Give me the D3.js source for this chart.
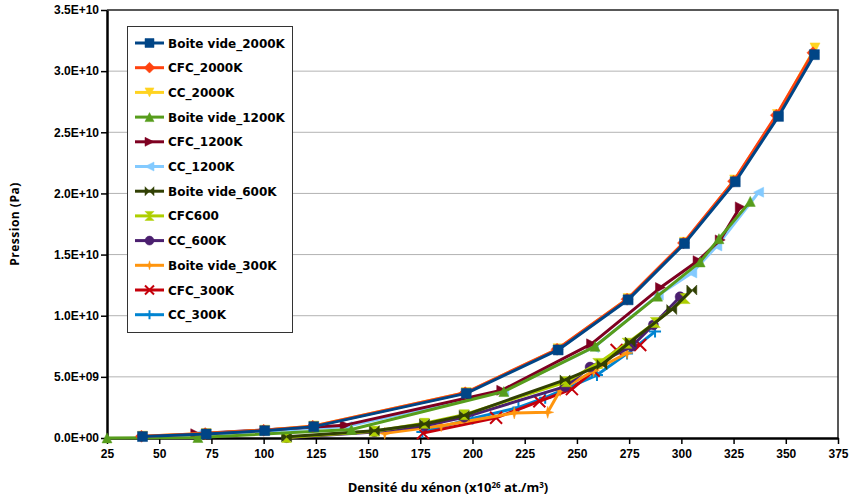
<!DOCTYPE html>
<html>
<head>
<meta charset="utf-8">
<script src="https://cdn.jsdelivr.net/npm/d3@7/dist/d3.min.js"></script>
<style>
  html, body { margin: 0; padding: 0; background: #fff; }
  svg { display: block; }
</style>
</head>
<body>
<svg id="chart" width="849" height="499"></svg>
<script>
// Pression en fonction de la densité du xénon — [densité (x10^26 at./m³), pression (Pa)]
const boiteVide2000K = [[42,0.12e9],[72.5,0.33e9],[100.5,0.6e9],[124,0.93e9],[197,3.65e9],[241,7.2e9],[274.5,11.3e9],[301.5,15.9e9],[325.8,20.95e9],[346.5,26.3e9],[363.7,31.35e9]];
const cfc2000K = [[41.5,0.14e9],[72,0.36e9],[100,0.63e9],[123.5,0.96e9],[196.5,3.7e9],[240.5,7.25e9],[274,11.35e9],[301,15.95e9],[325,21.0e9],[345.5,26.4e9],[363,31.5e9]];
const cc2000K = [[42,0.15e9],[72.5,0.37e9],[100.5,0.64e9],[124,0.98e9],[197,3.72e9],[241,7.3e9],[274.5,11.4e9],[301.5,16.0e9],[325.5,21.1e9],[346,26.45e9],[364,31.9e9]];
const boiteVide1200K = [[25,0.01e9],[68.5,0.04e9],[142,0.7e9],[215,3.8e9],[258.7,7.5e9],[288.6,11.6e9],[309,14.4e9],[318,16.3e9],[333,19.35e9]];
const cfc1200K = [[67.5,0.35e9],[139,1.05e9],[214,3.9e9],[257,7.7e9],[290,12.3e9],[308,14.5e9],[318.6,16.2e9],[328.2,18.9e9]];
const cc1200K = [[68,0.25e9],[140,0.95e9],[215,3.85e9],[258,7.4e9],[289,11.7e9],[305,13.5e9],[317,15.7e9],[337,20.1e9]];
const boiteVide600K = [[111,0.1e9],[153,0.6e9],[177,1.15e9],[196,1.85e9],[244.3,4.75e9],[262,6.0e9],[275.5,7.85e9],[295.4,10.5e9],[305,12.1e9]];
const cfc600 = [[111,0.05e9],[153,0.55e9],[177,1.2e9],[196,1.9e9],[245,4.6e9],[260,6.1e9],[274,7.75e9],[287.5,9.45e9],[301.8,11.4e9]];
const cc600K = [[111,0.03e9],[153,0.5e9],[177,1.0e9],[196,1.7e9],[244.3,4.2e9],[256.3,5.8e9],[276.3,7.5e9],[286.6,9.25e9],[299.4,11.55e9]];
const boiteVide300K = [[158,0.38e9],[185,1.0e9],[220,2.05e9],[236,2.1e9],[242,3.9e9],[258,5.5e9],[274,6.95e9]];
const cfc300K = [[176.3,0.4e9],[211.3,1.65e9],[232,3.0e9],[247.6,4.0e9],[258,5.5e9],[269,7.2e9],[280.3,7.6e9]];
const cc300K = [[176,0.5e9],[200,1.6e9],[222,2.5e9],[234.8,3.3e9],[259.6,5.15e9],[274,6.9e9],[287.4,8.7e9]];

const seriesNames = ["Boite vide_2000K","CFC_2000K","CC_2000K","Boite vide_1200K","CFC_1200K","CC_1200K",
                     "Boite vide_600K","CFC600","CC_600K","Boite vide_300K","CFC_300K","CC_300K"];
const seriesData = [boiteVide2000K, cfc2000K, cc2000K, boiteVide1200K, cfc1200K, cc1200K,
                    boiteVide600K, cfc600, cc600K, boiteVide300K, cfc300K, cc300K];

const xTicks = [25,50,75,100,125,150,175,200,225,250,275,300,325,350,375];
const yTicks = [0,5e9,10e9,15e9,20e9,25e9,30e9,35e9];
const yTickLabels = ["0.0E+00","5.0E+09","1.0E+10","1.5E+10","2.0E+10","2.5E+10","3.0E+10","3.5E+10"];

// Style per series: colour and marker
const colors = ["#004586","#ff420e","#ffd320","#579d1c","#7e0021","#83caff",
                "#314004","#aecf00","#4b1f6f","#ff950e","#c5000b","#0084d1"];
const markers = ["square","diamond","down","up","right","left","bowtie","hourglass","circle","star","cross","plus"];

function markerPath(type, r) {
  switch (type) {
    case "square": return `M${-r},${-r}H${r}V${r}H${-r}Z`;
    case "diamond": return `M0,${-r*1.2}L${r*1.2},0L0,${r*1.2}L${-r*1.2},0Z`;
    case "down": return `M${-r},${-r}L${r},${-r}L0,${r}Z`;
    case "up": return `M${-r},${r}L${r},${r}L0,${-r}Z`;
    case "right": return `M${-r},${-r}L${r},0L${-r},${r}Z`;
    case "left": return `M${r},${-r}L${-r},0L${r},${r}Z`;
    case "bowtie": return `M${-r},${-r}L0,0L${-r},${r}ZM${r},${-r}L0,0L${r},${r}Z`;
    case "hourglass": return `M${-r},${-r}L${r},${-r}L0,0ZM${-r},${r}L${r},${r}L0,0Z`;
    case "circle": return `M${r},0A${r},${r} 0 1,1 ${-r},0A${r},${r} 0 1,1 ${r},0Z`;
    case "star": { const s = r*0.22; return `M0,${-r}L${s},${-s}L${r},0L${s},${s}L0,${r}L${-s},${s}L${-r},0L${-s},${-s}Z`; }
    case "cross": return `M${-r},${-r}L${r},${r}M${r},${-r}L${-r},${r}`;
    case "plus": return `M0,${-r}V${r}M${-r},0H${r}`;
  }
}
const strokeOnly = t => t === "cross" || t === "plus";

const svg = d3.select("#chart");
const margin = {left: 107, right: 11, top: 10, bottom: 61};
const W = 849, H = 499;
const x = d3.scaleLinear().domain([25, 375]).range([margin.left, W - margin.right]);
const y = d3.scaleLinear().domain([0, 35e9]).range([H - margin.bottom, margin.top]);

const tickFont = "'Liberation Sans', Arial, sans-serif";

// horizontal gridlines
svg.append("g").selectAll("line").data(yTicks.slice(1, -1)).join("line")
  .attr("x1", x(25)).attr("x2", x(375))
  .attr("y1", d => y(d)).attr("y2", d => y(d))
  .attr("stroke", "#b3b3b3").attr("stroke-width", 1);

// plot frame (top and right)
svg.append("path")
  .attr("d", `M${x(25)},${y(35e9)}H${x(375)}V${y(0)}`)
  .attr("fill", "none").attr("stroke", "#222").attr("stroke-width", 1.5);

// axes
const yAxis = d3.axisLeft(y).tickValues(yTicks).tickFormat((d, i) => yTickLabels[i]).tickSize(6).tickSizeOuter(0);
const gy = svg.append("g").attr("transform", `translate(${x(25)},0)`).call(yAxis);
const xAxis = d3.axisBottom(x).tickValues(xTicks).tickFormat(d3.format("d")).tickSize(6).tickSizeOuter(0);
const gx = svg.append("g").attr("transform", `translate(0,${y(0)})`).call(xAxis);
[gx, gy].forEach(g => {
  g.select(".domain").attr("stroke", "#000").attr("stroke-width", 2.5);
  g.selectAll(".tick line").attr("stroke", "#000").attr("stroke-width", 1.5);
  g.selectAll(".tick text").attr("fill", "#000")
    .style("font-family", tickFont).style("font-weight", "bold").style("font-size", "12px");
});
gy.selectAll(".tick text").attr("x", -8);
gx.selectAll(".tick text").attr("y", 11);

// axis titles
svg.append("text")
  .attr("x", 448).attr("y", 492)
  .attr("text-anchor", "middle")
  .style("font-family", "'Open Sans', sans-serif").style("font-weight", "bold").style("font-size", "13px")
  .attr("fill", "#000")
  .html('Densité du xénon (x10<tspan dy="-4" font-size="8">26</tspan><tspan dy="4"> at./m</tspan><tspan dy="-4" font-size="8">3</tspan><tspan dy="4">)</tspan>');
svg.append("text")
  .attr("transform", `translate(19,${(y(0) + y(35e9)) / 2}) rotate(-90)`)
  .attr("text-anchor", "middle")
  .style("font-family", "'Open Sans', sans-serif").style("font-weight", "bold").style("font-size", "12px")
  .style("letter-spacing", "0.5px")
  .attr("fill", "#000")
  .text("Pression (Pa)");

// series, drawn last-to-first so the first ones sit on top
const line = d3.line().x(d => x(d[0])).y(d => y(d[1]));
const order = d3.range(seriesData.length).reverse();
order.forEach(i => {
  const g = svg.append("g");
  g.append("path").datum(seriesData[i]).attr("d", line)
    .attr("fill", "none").attr("stroke", colors[i]).attr("stroke-width", 3).attr("stroke-linejoin", "round");
  const r = markers[i] === "circle" ? 5 : (strokeOnly(markers[i]) || markers[i] === "star" ? 6 : 5);
  g.selectAll("path.m").data(seriesData[i]).join("path").attr("class", "m")
    .attr("transform", d => `translate(${x(d[0])},${y(d[1])})`)
    .attr("d", markerPath(markers[i], r))
    .attr("fill", strokeOnly(markers[i]) ? "none" : colors[i])
    .attr("stroke", colors[i]).attr("stroke-width", strokeOnly(markers[i]) ? 2 : 0.5);
});

// legend
const lg = svg.append("g");
lg.append("rect").attr("x", 127.5).attr("y", 26.5).attr("width", 165).attr("height", 306)
  .attr("fill", "#fff").attr("stroke", "#333").attr("stroke-width", 1);
seriesNames.forEach((name, i) => {
  const yy = 43 + i * 24.7;
  lg.append("line").attr("x1", 135).attr("x2", 164).attr("y1", yy).attr("y2", yy)
    .attr("stroke", colors[i]).attr("stroke-width", 3);
  lg.append("path").attr("transform", `translate(149.5,${yy})`)
    .attr("d", markerPath(markers[i], 4.5))
    .attr("fill", strokeOnly(markers[i]) ? "none" : colors[i])
    .attr("stroke", colors[i]).attr("stroke-width", strokeOnly(markers[i]) ? 2 : 0.5);
  lg.append("text").attr("x", 168).attr("y", yy + 4.5)
    .style("font-family", "'DejaVu Sans', sans-serif").style("font-weight", "bold").style("font-size", "12px")
    .attr("fill", "#000").text(name);
});
</script>
</body>
</html>
